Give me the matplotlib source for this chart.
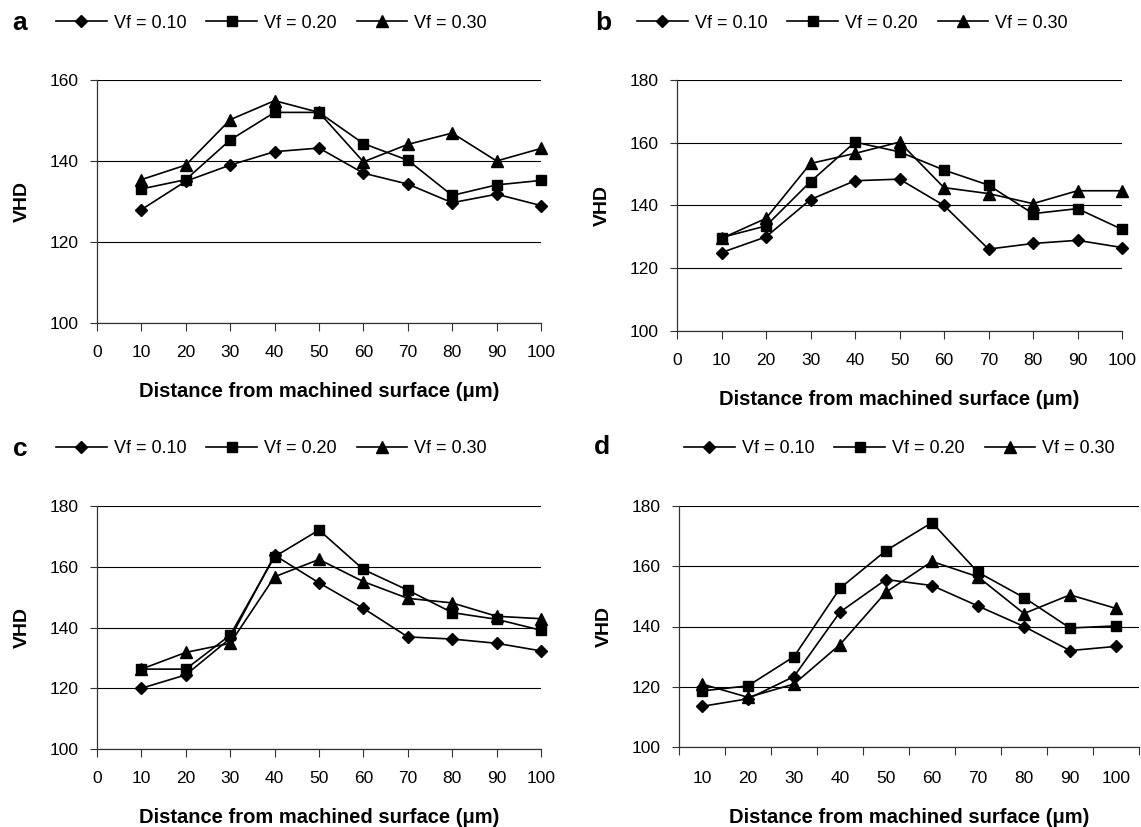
import numpy as np
import matplotlib
matplotlib.use("Agg")
import matplotlib.pyplot as plt
from matplotlib.ticker import FixedLocator

plt.rcParams["font.family"] = ["Liberation Sans", "DejaVu Sans"]

# -----------------------------
# DATA
# -----------------------------
distance = [10, 20, 30, 40, 50, 60, 70, 80, 90, 100]
series_labels = ["Vf = 0.10", "Vf = 0.20", "Vf = 0.30"]

a_vf010 = [128, 135, 139, 142.3, 143.2, 137, 134.3, 129.7, 131.8, 129]
a_vf020 = [133.1, 135.4, 145.2, 152, 152, 144.3, 140.2, 131.5, 134.1, 135.2]
a_vf030 = [135.4, 139, 150.2, 154.9, 152, 139.8, 144.1, 146.9, 140, 143.1]

b_vf010 = [125, 130, 141.9, 147.9, 148.4, 140, 126.1, 127.9, 128.9, 126.6]
b_vf020 = [129.8, 133.5, 147.6, 160.2, 157.1, 151.3, 146.5, 137.4, 139, 132.4]
b_vf030 = [129.5, 135.9, 153.4, 156.6, 160.2, 145.7, 143.8, 140.6, 144.7, 144.7]

c_vf010 = [120, 124.4, 136.4, 163.8, 154.7, 146.3, 136.9, 136.2, 134.8, 132.3]
c_vf020 = [126.3, 126.3, 137.5, 163.3, 172.1, 159.1, 152.3, 144.9, 142.7, 139.1]
c_vf030 = [126.3, 131.8, 134.8, 156.7, 162.4, 155.1, 149.6, 148.1, 143.7, 142.9]

d_vf010 = [113.5, 116, 123.4, 144.8, 155.6, 153.6, 146.8, 140, 132, 133.4]
d_vf020 = [118.6, 120.3, 130, 152.7, 165.2, 174.5, 158, 149.6, 139.5, 140.2]
d_vf030 = [120.9, 116.5, 120.9, 134, 151.4, 161.6, 156.5, 144.3, 150.5, 146]

MARKERS = [("D", 6.5), ("s", 7.4), ("^", 8.7)]
TICK_FS = 12.5
XLABEL = "Distance from machined surface (\u03bcm)"

W, H = 1141, 827
fig = plt.figure(figsize=(W / 100, H / 100), dpi=100)


def px_rect(left, top, right, bottom):
    return [left / W, 1 - bottom / H, (right - left) / W, (bottom - top) / H]


def style_axis(ax, yticks):
    for s in ("top", "right"):
        ax.spines[s].set_visible(False)
    for s in ("left", "bottom"):
        ax.spines[s].set_color("#333333")
        ax.spines[s].set_linewidth(0.9)
    ax.set_ylim(yticks[0], yticks[-1])
    ax.set_yticks(yticks)
    ax.yaxis.grid(True, color="black", linewidth=0.8)
    ax.set_axisbelow(True)
    ax.tick_params(axis="y", direction="out", length=5, width=0.8,
                   labelsize=TICK_FS, pad=8, color="#333333")
    ax.tick_params(axis="x", which="both", direction="out", width=0.8,
                   labelsize=TICK_FS, color="#333333")
    ax.set_ylabel("VHD", fontsize=14, fontweight="bold", labelpad=14)
    ax.set_xlabel(XLABEL, fontsize=14.5, fontweight="bold", labelpad=16)


def draw_series(ax, xs, ys_list):
    lines = []
    for ys, (m, ms) in zip(ys_list, MARKERS):
        ln, = ax.plot(xs, ys, color="black", linewidth=1.2, marker=m,
                      markersize=ms, markerfacecolor="black",
                      markeredgecolor="black", clip_on=False, zorder=3)
        lines.append(ln)
    return lines


def add_legend(lines, x, y):
    fig.legend(lines, series_labels, loc="center left",
               bbox_to_anchor=(x / W, 1 - y / H), ncol=3, frameon=False,
               fontsize=13, handlelength=2.8, handletextpad=0.4,
               columnspacing=1.1, borderpad=0, borderaxespad=0)


# -----------------------------
# PANELS a, b, c (numeric x axis)
# -----------------------------
panels = [
    ("a", px_rect(97, 80, 541, 323), [a_vf010, a_vf020, a_vf030], [100, 120, 140, 160], (20, 23), (56, 23)),
    ("b", px_rect(677, 80, 1122, 331), [b_vf010, b_vf020, b_vf030], [100, 120, 140, 160, 180], (603, 23), (637, 23)),
    ("c", px_rect(97, 506, 541, 749), [c_vf010, c_vf020, c_vf030], [100, 120, 140, 160, 180], (20, 449), (56, 449)),
]

for letter, rect, ys_list, yticks, lpos, legpos in panels:
    ax = fig.add_axes(rect)
    lines = draw_series(ax, distance, ys_list)
    style_axis(ax, yticks)
    ax.set_xlim(0, 100)
    ax.set_xticks(range(0, 101, 10))
    ax.tick_params(axis="x", length=6, pad=10)
    fig.text(lpos[0] / W, 1 - lpos[1] / H, letter, fontsize=19,
             fontweight="bold", ha="center", va="center")
    add_legend(lines, *legpos)

# -----------------------------
# PANEL d (category x axis)
# -----------------------------
ax = fig.add_axes(px_rect(679, 506, 1139, 747))
pos = np.arange(len(distance))
lines = draw_series(ax, pos, [d_vf010, d_vf020, d_vf030])
style_axis(ax, [100, 120, 140, 160, 180])
ax.set_xlim(-0.5, len(distance) - 0.5)
ax.set_xticks(pos)
ax.set_xticklabels([str(v) for v in distance])
ax.xaxis.set_minor_locator(FixedLocator(np.arange(-0.5, len(distance), 1.0)))
ax.tick_params(axis="x", which="major", length=0, pad=17)
ax.tick_params(axis="x", which="minor", length=6)
fig.text(602 / W, 1 - 447 / H, "d", fontsize=19, fontweight="bold",
         ha="center", va="center")
add_legend(lines, 684, 449)

fig.savefig("out.png", dpi=100)
